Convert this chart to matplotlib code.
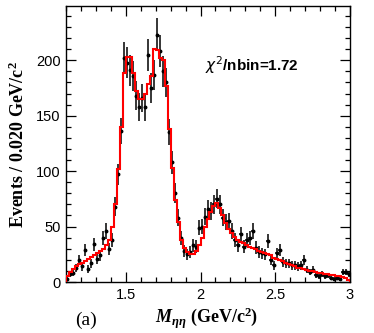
import numpy as np
import matplotlib
matplotlib.use("Agg")
import matplotlib.pyplot as plt
from matplotlib.ticker import MultipleLocator

# bin centres 1.11 ... 2.99 (bin width 0.020 GeV/c^2)
mass_low = 1.10
bin_width = 0.02

data_counts = [3, 7, 8, 13, 20, 14, 29, 12, 17, 34,
               21, 24, 40, 46, 30, 38, 68, 97, 136, 202,
               198, 191, 186, 168, 158, 166, 158, 205, 175, 187,
               223, 208, 190, 180, 135, 108, 80, 58, 40, 28,
               25, 27, 33, 32, 49, 50, 59, 66, 64, 70,
               75, 70, 58, 54, 55, 46, 38, 33, 43, 32,
               38, 40, 46, 31, 27, 26, 25, 37, 20, 15,
               26, 29, 18, 17, 17, 15, 15, 14, 15, 20,
               11, 9, 11, 6, 5, 7, 5, 6, 4, 3,
               4, 3, 9, 9, 7]

fit_counts = [5, 9, 12, 14, 16, 17, 19, 21, 23, 24,
              26, 28, 30, 33, 38, 50, 70, 102, 140, 189,
              203, 203, 189, 172, 165, 165, 170, 179, 186, 210,
              209, 202, 200, 177, 138, 103, 74, 54, 38, 31,
              27, 25, 25, 28, 33, 40, 50, 57, 63, 69,
              71, 67, 60, 53, 48, 44, 41, 38, 36, 35,
              33, 32, 31, 30, 28, 27, 26, 25, 24, 22,
              21, 20, 18.5, 17.5, 16, 15, 14, 13, 12.5, 11.5,
              11, 10, 9.5, 9, 8.5, 8, 7.5, 7, 6.5, 6,
              5.5, 5, 4.5, 4, 2]

chi2_text = r"$\chi^2$/nbin=1.72"

n = len(data_counts)
edges = mass_low + bin_width * np.arange(n + 1)
centers = 0.5 * (edges[:-1] + edges[1:])
data = np.array(data_counts, dtype=float)
errs = np.sqrt(data)

plt.rcParams['mathtext.fontset'] = 'custom'
plt.rcParams['mathtext.rm'] = 'Liberation Serif:bold'
plt.rcParams['mathtext.it'] = 'Liberation Serif:italic:bold'
plt.rcParams['mathtext.bf'] = 'Liberation Serif:bold'

fig = plt.figure(figsize=(3.74, 3.33), dpi=100)
ax = fig.add_axes([66/374, 1-282/333, 284/374, 276/333])

ax.errorbar(centers, data, yerr=errs, xerr=bin_width/2, fmt='o', color='black',
            markersize=1.8, elinewidth=1.1, capsize=0, zorder=3)
ax.stairs(fit_counts, edges, color='red', linewidth=1.5, zorder=4)

ax.set_xlim(1.1, 3.0)
ax.set_ylim(0, 249)
ax.xaxis.set_minor_locator(MultipleLocator(0.1))
ax.yaxis.set_major_locator(MultipleLocator(50))
ax.yaxis.set_minor_locator(MultipleLocator(10))
ax.set_xticks([1.5, 2.0, 2.5, 3.0])
ax.set_xticklabels(['1.5', '2', '2.5', '3'])
ax.tick_params(which='both', direction='in', top=True, right=True,
               labelsize=10.5, width=0.9)
ax.tick_params(which='major', length=7, pad=4)
ax.tick_params(which='minor', length=3.5)
for lab in ax.get_xticklabels() + ax.get_yticklabels():
    lab.set_fontfamily('Liberation Sans')
for s in ax.spines.values():
    s.set_linewidth(1.0)

fig.text(18/374, 1-145/333, r'Events / 0.020 GeV/c$^{2}$', rotation=90,
         ha='center', va='center', fontsize=13, fontweight='bold',
         fontfamily='Liberation Serif')
fig.text(207/374, 1-318/333, r'$M_{\eta\eta}$ (GeV/c$^{2}$)',
         ha='center', va='center', fontsize=13, fontweight='bold',
         fontfamily='Liberation Serif')
fig.text(86/374, 1-320/333, '(a)', ha='center', va='center', fontsize=14,
         fontfamily='Liberation Serif')

ax.text(0.49, 0.785, chi2_text, transform=ax.transAxes, ha='left', va='center',
        fontsize=11, fontweight='bold', fontfamily='Liberation Sans',
        math_fontfamily='dejavusans')

fig.savefig('out.png', dpi=100)
